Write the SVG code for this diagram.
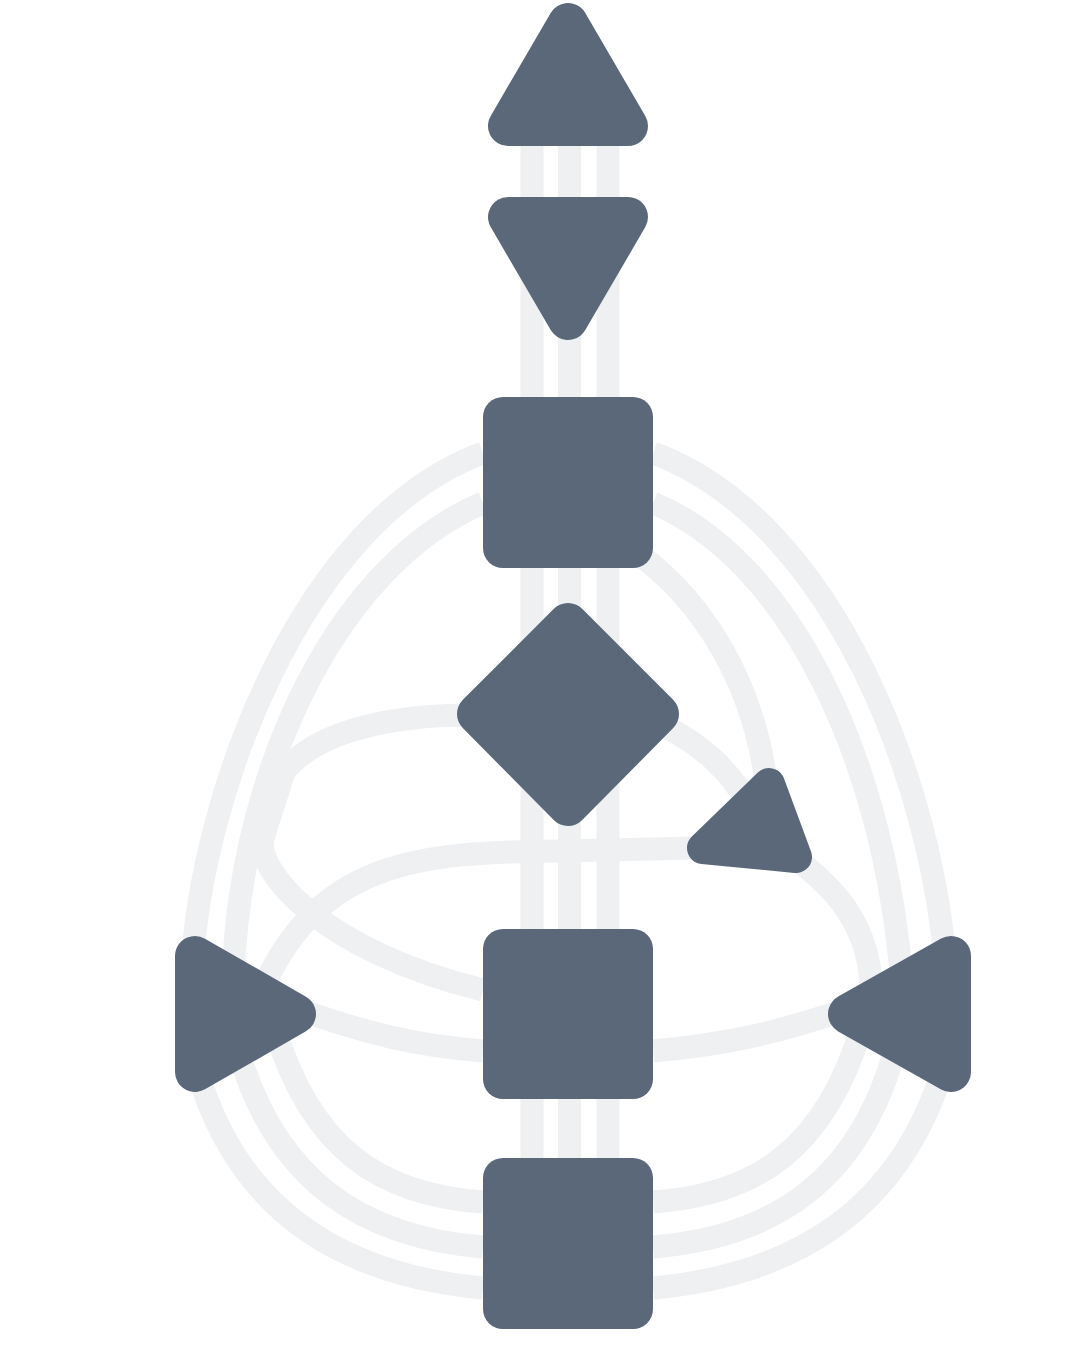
<svg xmlns="http://www.w3.org/2000/svg" width="1080" height="1350" viewBox="0 0 1080 1350">
<style>
.c{fill:none;stroke:#eff0f2;stroke-width:23}
.n{fill:#5a687a;stroke:#5a687a;stroke-linejoin:round}
.t{stroke-width:40}
</style>
<rect width="1080" height="1350" fill="#ffffff"/>
<g id="connectors">
<path class="c" d="M532,130V1170M569.5,130V1170M608,130V1170"/>
<path class="c" d="M483,453C300,520 200,800 192,970"/>
<path class="c" d="M483,503C345,560 240,760 233,980"/>
<path class="c" d="M462,715C400,716 318,728 284,772L263,838C255,870 320,950 483,990"/>
<path class="c" d="M695,848L560,851C420,852 320,860 262,990"/>
<path class="c" d="M295,1008C370,1035 420,1046 483,1051"/>
<path class="c" d="M483,1202C381,1195 311,1150 274,1026"/>
<path class="c" d="M483,1247C361,1237 276,1180 238,1050"/>
<path class="c" d="M483,1288C341,1275 236,1210 196,1066"/>
<path class="c" d="M653,453C835,520 935,790 946,975"/>
<path class="c" d="M653,503C790,560 885,760 902,985"/>
<path class="c" d="M640,555C700,600 755,680 767,790"/>
<path class="c" d="M668,728C700,745 725,765 750,805"/>
<path class="c" d="M790,855C840,890 872,930 872,1000"/>
<path class="c" d="M653,1051C720,1045 770,1035 845,1010"/>
<path class="c" d="M653,1202C755,1195 825,1150 862,1026"/>
<path class="c" d="M653,1247C775,1237 860,1180 896,1046"/>
<path class="c" d="M653,1288C795,1275 900,1210 944,1066"/>
</g>
<g id="head"><polygon class="n t" points="568,23 508,126 628,126"/></g>
<g id="ajna"><polygon class="n t" points="508,217 628,217 568,320"/></g>
<g id="throat"><rect class="n" x="483" y="397" width="170" height="171" rx="20" stroke-width="0"/></g>
<g id="g-center"><polygon class="n" stroke-width="40" points="568,623 659,714 568,806 477,714"/></g>
<g id="heart"><polygon class="n" stroke-width="32" points="769,784 703,848 796,857"/></g>
<g id="sacral"><rect class="n" x="483" y="929" width="170" height="170" rx="20" stroke-width="0"/></g>
<g id="root"><rect class="n" x="483" y="1158" width="170" height="171" rx="20" stroke-width="0"/></g>
<g id="spleen"><polygon class="n t" points="195,956 296,1014 195,1072"/></g>
<g id="solar-plexus"><polygon class="n t" points="951,956 848,1014 951,1072"/></g>
</svg>
